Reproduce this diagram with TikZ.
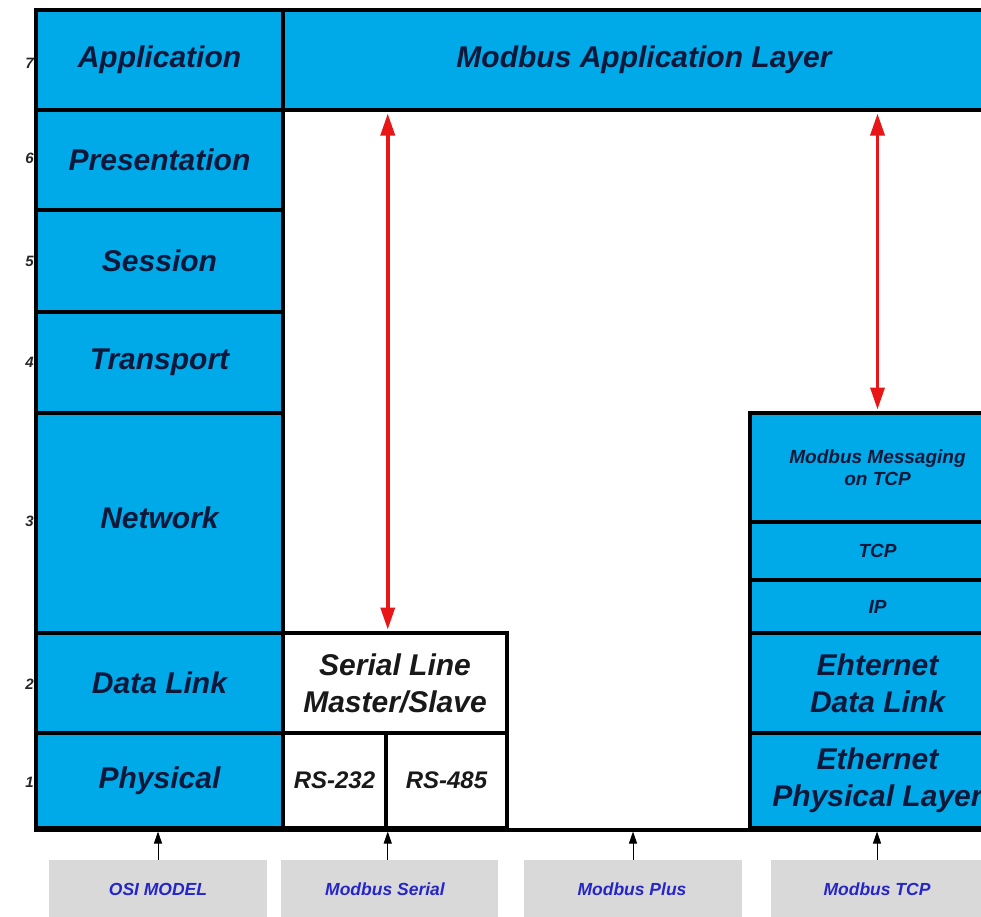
\documentclass[tikz,border=0pt]{standalone}
\usepackage{fontspec}
\setmainfont{Liberation Sans}
\usetikzlibrary{arrows.meta}
\definecolor{cyanfill}{RGB}{0,170,232}
\definecolor{navytext}{RGB}{14,24,58}
\definecolor{graybox}{RGB}{217,217,217}
\definecolor{labelblue}{RGB}{38,38,200}
\definecolor{arrowred}{RGB}{232,22,22}
\tikzset{
  layerbox/.style={draw=black, line width=3.5pt, fill=cyanfill, inner sep=0pt,
    text=navytext, align=center, font=\bfseries\itshape\fontsize{30}{37}\selectfont},
  whitebox/.style={layerbox, fill=white, text=black!90},
  smallbox/.style={layerbox, font=\bfseries\itshape\fontsize{19}{22}\selectfont},
  rsbox/.style={whitebox, font=\bfseries\itshape\fontsize{24}{28}\selectfont},
  numlabel/.style={anchor=east, inner sep=0pt, text=black!85, font=\bfseries\itshape\fontsize{15}{17}\selectfont},
  stackbox/.style={fill=graybox, draw=none, inner sep=0pt, text=labelblue,
    font=\bfseries\itshape\fontsize{17.5}{20}\selectfont},
  redarrow/.style={draw=arrowred, line width=3.5pt, {Triangle[width=14pt,length=22pt]}-{Triangle[width=14pt,length=22pt]}, shorten <=1.75pt, shorten >=1.75pt},
  blackarrow/.style={draw=black, line width=1pt, -{Triangle[width=8pt,length=12pt]}, shorten >=1.75pt}
}
\begin{document}
\begin{tikzpicture}[x=1pt,y=-1pt]
\useasboundingbox (0,0) rectangle (981,916);
\clip (0,0) rectangle (981,916);
\fill[white] (0,0) rectangle (981,916);
% OSI column
\node[layerbox, minimum width=247pt, minimum height=100pt] (app) at (159.5,60) {Application};
\node[layerbox, minimum width=247pt, minimum height=100pt] (pres) at (159.5,160) {Presentation};
\node[layerbox, minimum width=247pt, minimum height=102pt] (sess) at (159.5,261) {Session};
\node[layerbox, minimum width=247pt, minimum height=101pt] (trans) at (159.5,362.5) {Transport};
\node[layerbox, minimum width=247pt, minimum height=220pt] (net) at (159.5,523) {\raisebox{10pt}{Network}};
\node[layerbox, minimum width=247pt, minimum height=100pt] (dl) at (159.5,683) {Data Link};
\node[layerbox, minimum width=247pt, minimum height=95pt] (phys) at (159.5,780.5) {Physical};
% numbers
\node[numlabel] (n7) at (34,63) {7};
\node[numlabel] (n6) at (34,158) {6};
\node[numlabel] (n5) at (34,261) {5};
\node[numlabel] (n4) at (34,362) {4};
\node[numlabel] (n3) at (34,521) {3};
\node[numlabel] (n2) at (34,684) {2};
\node[numlabel] (n1) at (34,782) {1};
% Modbus application layer
\node[layerbox, minimum width=722pt, minimum height=100pt] (mal) at (644,60) {Modbus Application Layer};
% Serial
\node[whitebox, minimum width=224pt, minimum height=100pt] (serial) at (395,683) {Serial Line\\Master/Slave};
\node[rsbox, minimum width=103pt, minimum height=95pt] (rs232) at (334.5,780.5) {RS-232};
\node[rsbox, minimum width=121pt, minimum height=95pt] (rs485) at (446.5,780.5) {RS-485};
% TCP stack
\node[smallbox, minimum width=255pt, minimum height=109pt] (mm) at (877.5,467.5) {Modbus Messaging\\on TCP};
\node[smallbox, minimum width=255pt, minimum height=58pt] (tcp) at (877.5,551) {TCP};
\node[smallbox, minimum width=255pt, minimum height=53pt] (ip) at (877.5,606.5) {IP};
\node[layerbox, minimum width=255pt, minimum height=100pt] (edl) at (877.5,683) {Ehternet\\Data Link};
\node[layerbox, minimum width=255pt, minimum height=95pt] (eph) at (877.5,780.5) {Ethernet\\Physical Layer};
% bottom line
\draw[line width=3.5pt] (phys.south west) -- (eph.south east);
% red arrows
\draw[redarrow] (mal.south -| rs232.east) -- (serial.north -| rs232.east);
\draw[redarrow] (mal.south -| mm.north) -- (mm.north);
% bottom stacks
\node[stackbox, minimum width=218pt, minimum height=70pt, anchor=north] (g1) at (158,860) {};
\node[stackbox, minimum width=217pt, minimum height=70pt, anchor=north] (g2) at (389.5,860) {};
\node[stackbox, minimum width=218pt, minimum height=70pt, anchor=north] (g3) at (633,860) {};
\node[stackbox, minimum width=212pt, minimum height=70pt, anchor=north] (g4) at (877,860) {};
\node[stackbox, fill=none] (t1) at (158,889) {OSI MODEL};
\node[stackbox, fill=none] (t2) at (385,889) {Modbus Serial};
\node[stackbox, fill=none] (t3) at (632,889) {Modbus Plus};
\node[stackbox, fill=none] (t4) at (877,889) {Modbus TCP};
\draw[blackarrow] (g1.north) -- (g1.north |- phys.south);
\draw[blackarrow] (g2.north -| rs232.east) -- (rs232.south east);
\draw[blackarrow] (g3.north) -- (g3.north |- phys.south);
\draw[blackarrow] (g4.north) -- (g4.north |- phys.south);
\end{tikzpicture}
\end{document}
